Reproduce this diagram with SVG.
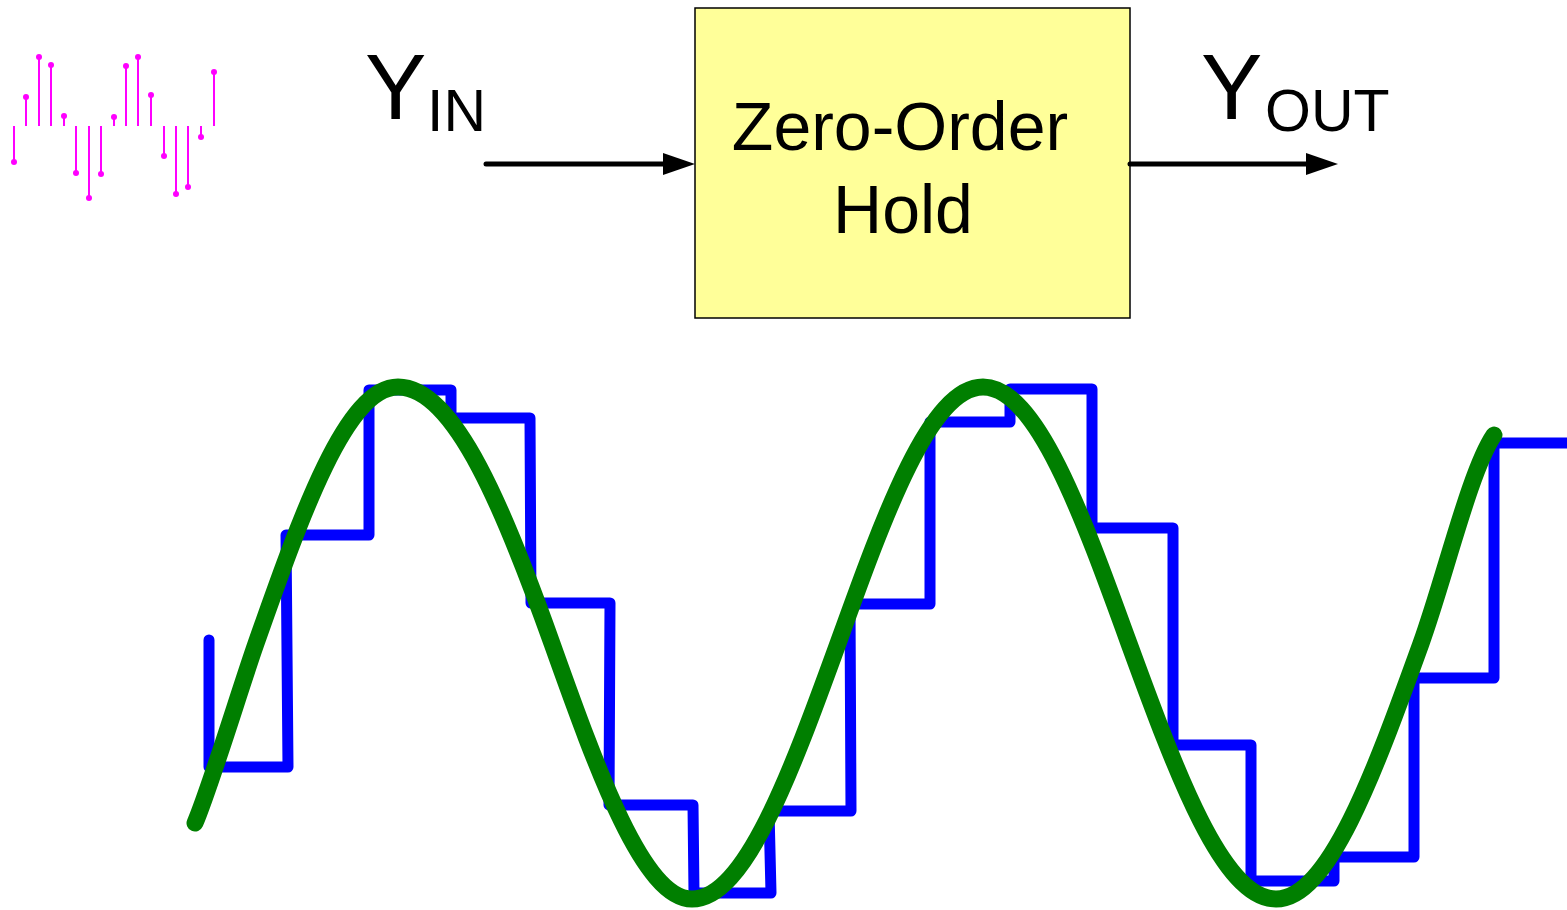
<svg xmlns="http://www.w3.org/2000/svg" width="1567" height="910" viewBox="0 0 1567 910">
<style>
.lbl{font-family:"Liberation Sans",Arial,sans-serif;fill:#000}
.stem{stroke:#ff00ff;stroke-width:2}
.dot{fill:#ff00ff}
.conn{stroke:#000;stroke-width:5;stroke-linecap:round;fill:none}
.head{fill:#000}
.zoh{fill:none;stroke:#0000ff;stroke-width:11;stroke-linejoin:round;stroke-linecap:round}
.sig{fill:none;stroke:#007f00;stroke-width:17;stroke-linejoin:round;stroke-linecap:round}
</style>
<rect width="1567" height="910" fill="#fff"/>
<g id="samples">
<line class="stem" x1="14" y1="126" x2="14" y2="162"/><circle class="dot" cx="14" cy="162" r="3"/>
<line class="stem" x1="26" y1="126" x2="26" y2="97"/><circle class="dot" cx="26" cy="97" r="3"/>
<line class="stem" x1="39" y1="126" x2="39" y2="57"/><circle class="dot" cx="39" cy="57" r="3"/>
<line class="stem" x1="51" y1="126" x2="51" y2="65"/><circle class="dot" cx="51" cy="65" r="3"/>
<line class="stem" x1="64" y1="126" x2="64" y2="116"/><circle class="dot" cx="64" cy="116" r="3"/>
<line class="stem" x1="76" y1="126" x2="76" y2="173"/><circle class="dot" cx="76" cy="173" r="3"/>
<line class="stem" x1="89" y1="126" x2="89" y2="198"/><circle class="dot" cx="89" cy="198" r="3"/>
<line class="stem" x1="101" y1="126" x2="101" y2="174"/><circle class="dot" cx="101" cy="174" r="3"/>
<line class="stem" x1="114" y1="126" x2="114" y2="117"/><circle class="dot" cx="114" cy="117" r="3"/>
<line class="stem" x1="126" y1="126" x2="126" y2="66"/><circle class="dot" cx="126" cy="66" r="3"/>
<line class="stem" x1="138" y1="126" x2="138" y2="57"/><circle class="dot" cx="138" cy="57" r="3"/>
<line class="stem" x1="151" y1="126" x2="151" y2="95"/><circle class="dot" cx="151" cy="95" r="3"/>
<line class="stem" x1="164" y1="126" x2="164" y2="156"/><circle class="dot" cx="164" cy="156" r="3"/>
<line class="stem" x1="176" y1="126" x2="176" y2="194"/><circle class="dot" cx="176" cy="194" r="3"/>
<line class="stem" x1="188" y1="126" x2="188" y2="187"/><circle class="dot" cx="188" cy="187" r="3"/>
<line class="stem" x1="201" y1="126" x2="201" y2="137"/><circle class="dot" cx="201" cy="137" r="3"/>
<line class="stem" x1="214" y1="126" x2="214" y2="72"/><circle class="dot" cx="214" cy="72" r="3"/>
</g>
<g id="yin">
<text class="lbl" x="365" y="119" font-size="92">Y</text>
<text class="lbl" x="427" y="131" font-size="59">IN</text>
</g>
<g id="zoh">
<rect x="695" y="8" width="435" height="310" fill="#ffff99" stroke="#000" stroke-width="1.5"/>
<text class="lbl" x="900" y="150" font-size="68" text-anchor="middle">Zero-Order</text>
<text class="lbl" x="903" y="233" font-size="68" text-anchor="middle">Hold</text>
</g>
<g id="yout">
<text class="lbl" x="1201" y="119" font-size="92">Y</text>
<text class="lbl" x="1265" y="131" font-size="59">OUT</text>
</g>
<g id="connectors">
<line class="conn" x1="486" y1="164" x2="670" y2="164"/>
<polygon class="head" points="663,153 695,164 663,175"/>
<line class="conn" x1="1130" y1="164" x2="1312" y2="164"/>
<polygon class="head" points="1306,153 1338,164 1306,175"/>
</g>
<g id="waveforms">
<path class="zoh" d="M209,640 L209,767 L288,767 L286,535 L369,535 L369,390 L451,390 L451,418 L530,418 L531,603 L610,603 L609,805 L693,805 L694,893 L771,893 L769,811 L851,811 L850,604 L930,604 L930,422 L1010,422 L1010,389 L1092,389 L1092,528 L1173,528 L1173,745 L1251,745 L1251,881 L1334,881 L1334,857 L1414,857 L1414,678 L1494,678 L1494,443 L1575,443"/>
<path class="sig" d="M195,823 C210,788 241,686 256,643.5 C302.3,512.1 346.6,387 398,387 C455.2,387 506,514.5 552,643.5 C598,772.5 643.5,899 692,899 C744.8,899 790.4,774.4 838,643.5 C885.3,512.1 930.5,387 983,387 C1035.8,387 1081.4,512.1 1129,643.5 C1176.9,774.4 1222.8,899 1276,899 C1328.5,899 1373.7,774.4 1421,643.5 C1445,577 1470,470 1494,435"/>
</g>
</svg>
